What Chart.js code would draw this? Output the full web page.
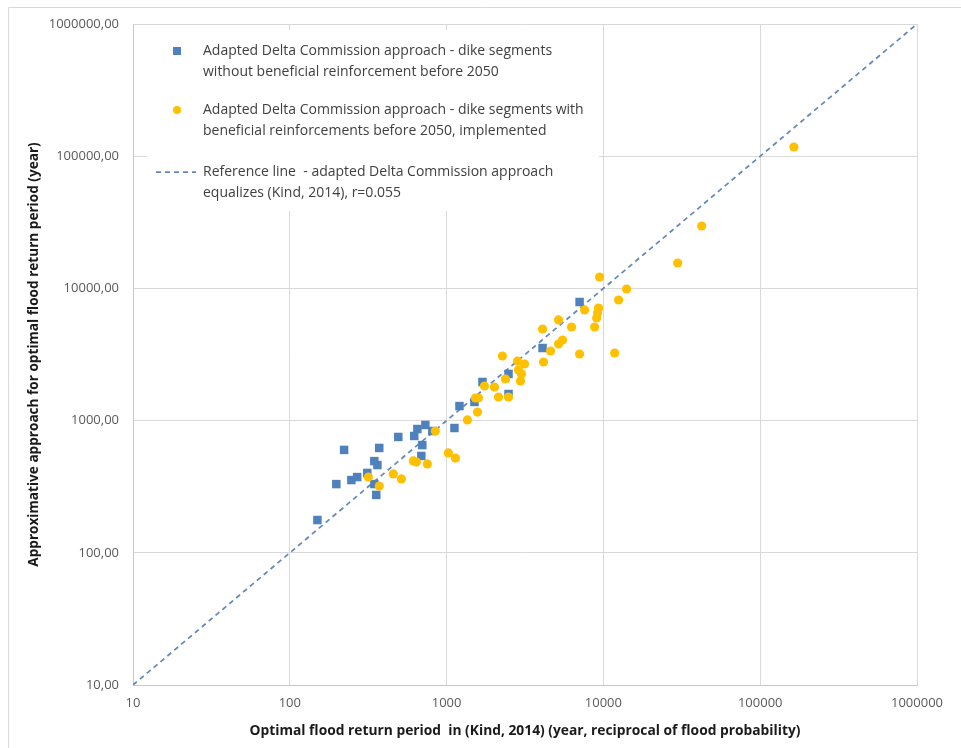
<!DOCTYPE html>
<html>
<head>
<meta charset="utf-8">
<script src="https://cdn.jsdelivr.net/npm/chart.js@4"></script>
<style>
  body { margin: 0; background: #fff; }
  #wrap { width: 961px; height: 748px; position: relative; }
</style>
</head>
<body>
<div id="wrap"><canvas id="myChart"></canvas></div>
<script>
// dike segments without beneficial reinforcement (blue squares)
var blueX = [150, 198, 222, 247, 269, 312, 346, 362, 372, 346, 356, 492, 622, 651, 732, 700, 690, 811, 1122, 1208, 1506, 1693, 2483, 2483, 4093, 7050];
var blueY = [177, 331, 600, 355, 374, 402, 494, 461, 621, 331, 274, 752, 765, 864, 927, 653, 540, 834, 879, 1288, 1384, 1960, 2254, 1589, 3540, 7890];

// dike segments with beneficial reinforcements (yellow dots)
var yellowX = [317, 372, 457, 515, 614, 642, 754, 848, 1026, 1138, 1358, 1574, 1527, 1596, 1743, 2020, 2142, 2483, 2373, 2270, 2832, 3140, 2872, 3004, 2960, 4150, 4600, 5174, 5486, 7050, 4093, 5174, 6266, 7586, 9315, 9180, 9057, 8790, 11800, 9460, 12500, 14060, 29770, 42360, 164000];
var yellowY = [374, 320, 395, 362, 495, 486, 470, 834, 569, 521, 1011, 1161, 1483, 1483, 1827, 1796, 1509, 1509, 2064, 3081, 2824, 2680, 2414, 2253, 1993, 2775, 3360, 3795, 4070, 3190, 4930, 5770, 5105, 6870, 7110, 6516, 5972, 5105, 3245, 12200, 8170, 9890, 15560, 29650, 117400];

// reference line y = x
var refX = [10, 1000000];
var refY = [10, 1000000];

var xTicks = [10, 100, 1000, 10000, 100000, 1000000];
var yTicks = [10, 100, 1000, 10000, 100000, 1000000];

var legendLines = [
  ["Adapted Delta Commission approach - dike segments", "without beneficial reinforcement before 2050"],
  ["Adapted Delta Commission approach - dike segments with", "beneficial reinforcements before 2050, implemented"],
  ["Reference line  - adapted Delta Commission approach", "equalizes (Kind, 2014), r=0.055"]
];

function toPoints(xs, ys) {
  return xs.map(function (x, i) { return { x: x, y: ys[i] }; });
}

var blue = "#4f81bd";
var yellow = "#ffc000";
var refColor = "#6489b8";

// legend drawn inside the plot area, on a white box that hides the grid
var insideLegend = {
  id: 'insideLegend',
  beforeDatasetsDraw: function (chart) {
    var ctx = chart.ctx;
    var a = chart.chartArea;
    var ds = chart.data.datasets;
    ctx.save();
    ctx.fillStyle = "#ffffff";
    ctx.fillRect(a.left + 14, a.top + 6, 452, 181);

    ctx.font = "14px 'Open Sans'";
    ctx.fillStyle = "#404040";
    ctx.textBaseline = "middle";
    var rows = [27, 86, 148];
    var mx = a.left + 44;
    var tx = a.left + 70;
    for (var i = 0; i < legendLines.length; i++) {
      var y = a.top + rows[i];
      ctx.fillText(legendLines[i][0], tx, y);
      ctx.fillText(legendLines[i][1], tx, y + 21);
    }
    // markers
    var y0 = a.top + rows[0];
    ctx.fillStyle = ds[1].backgroundColor;
    ctx.fillRect(mx - 4, y0 - 4, 8, 8);
    ctx.fillStyle = ds[0].backgroundColor;
    ctx.beginPath();
    ctx.arc(mx, a.top + rows[1], 4, 0, Math.PI * 2);
    ctx.fill();
    ctx.strokeStyle = ds[2].borderColor;
    ctx.lineWidth = ds[2].borderWidth;
    ctx.setLineDash(ds[2].borderDash);
    ctx.beginPath();
    ctx.moveTo(a.left + 23, a.top + rows[2]);
    ctx.lineTo(a.left + 63, a.top + rows[2]);
    ctx.stroke();
    ctx.restore();
  },
  afterDraw: function (chart) {
    var ctx = chart.ctx;
    ctx.save();
    ctx.strokeStyle = "#d9d9d9";
    ctx.lineWidth = 1;
    ctx.beginPath();
    ctx.moveTo(8.5, chart.height + 5);
    ctx.lineTo(8.5, 7.5);
    ctx.lineTo(chart.width + 5, 7.5);
    ctx.stroke();
    ctx.restore();
  }
};

var ctx = document.getElementById("myChart").getContext("2d");
var myChart = new Chart(ctx, {
  type: 'scatter',
  data: {
    datasets: [
      {
        label: legendLines[1].join(" "),
        data: toPoints(yellowX, yellowY),
        pointStyle: 'circle',
        pointRadius: 4.6,
        pointHoverRadius: 4.6,
        backgroundColor: yellow,
        borderColor: yellow,
        borderWidth: 0,
        order: 0
      },
      {
        label: legendLines[0].join(" "),
        data: toPoints(blueX, blueY),
        pointStyle: 'rect',
        pointRadius: 6,
        pointHoverRadius: 6,
        backgroundColor: blue,
        borderColor: blue,
        borderWidth: 0,
        order: 1
      },
      {
        type: 'line',
        label: legendLines[2].join(" "),
        data: toPoints(refX, refY),
        borderColor: refColor,
        borderWidth: 1.75,
        borderDash: [5, 4],
        pointRadius: 0,
        fill: false,
        order: 2
      }
    ]
  },
  options: {
    responsive: true,
    maintainAspectRatio: false,
    devicePixelRatio: 1,
    animation: false,
    layout: {
      padding: { top: 24, right: 44, left: 0, bottom: 0 }
    },
    plugins: {
      legend: { display: false },
      tooltip: { enabled: false }
    },
    scales: {
      x: {
        type: 'logarithmic',
        min: 10,
        max: 1000000,
        afterBuildTicks: function (scale) {
          scale.ticks = xTicks.map(function (v) { return { value: v }; });
        },
        afterFit: function (scale) { scale.height = 63; },
        grid: { color: "#d9d9d9", drawTicks: false },
        border: { color: "#c8c8c8" },
        ticks: {
          padding: 10,
          color: "#595959",
          font: { family: "'Open Sans'", size: 13 },
          maxRotation: 0,
          autoSkip: false,
          callback: function (v) { return String(v); }
        },
        title: {
          display: true,
          text: "Optimal flood return period  in (Kind, 2014) (year, reciprocal of flood probability)",
          color: "#1a1a1a",
          font: { family: "'Open Sans'", size: 13.8, weight: 'bold' },
          padding: { top: 0, bottom: 9 }
        }
      },
      y: {
        type: 'logarithmic',
        min: 10,
        max: 1000000,
        afterBuildTicks: function (scale) {
          scale.ticks = yTicks.map(function (v) { return { value: v }; });
        },
        afterFit: function (scale) { scale.width = 133; },
        grid: { color: "#d9d9d9", drawTicks: false },
        border: { color: "#c8c8c8" },
        ticks: {
          padding: 14,
          color: "#595959",
          font: { family: "'Open Sans'", size: 13 },
          autoSkip: false,
          callback: function (v) { return String(v) + ",00"; }
        },
        title: {
          display: true,
          text: "Approximative approach for optimal flood return period (year)",
          color: "#1a1a1a",
          font: { family: "'Open Sans'", size: 13.6, weight: 'bold' },
          padding: { top: 26, bottom: 0 }
        }
      }
    }
  },
  plugins: [insideLegend]
});
</script>
</body>
</html>
